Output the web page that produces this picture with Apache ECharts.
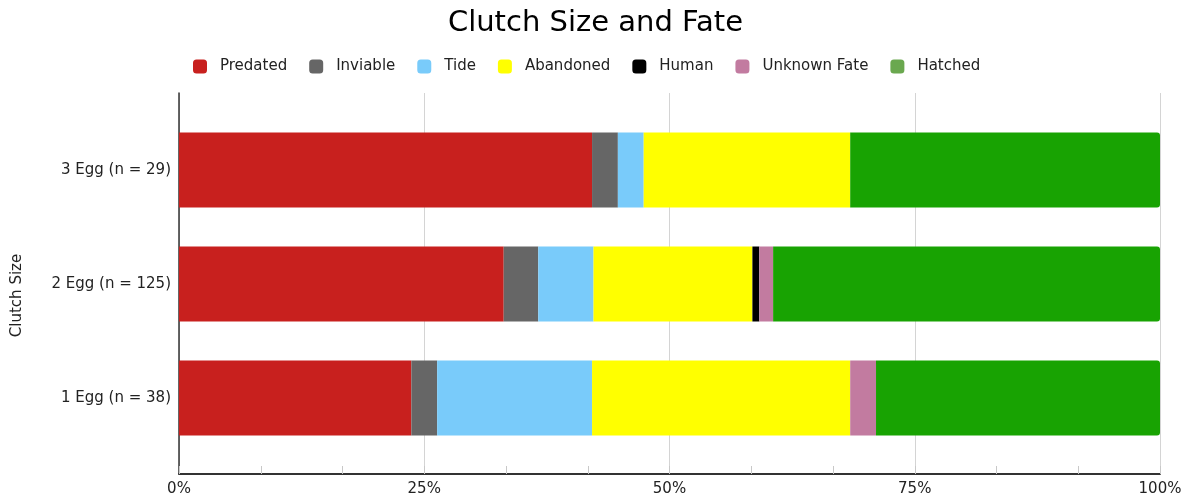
<!DOCTYPE html>
<html>
<head>
<meta charset="utf-8">
<title>Clutch Size and Fate</title>
<script src="https://cdn.jsdelivr.net/npm/echarts@6/dist/echarts.min.js"></script>
<style>
  html, body { margin: 0; padding: 0; background: #ffffff; }
  #chart { width: 1191px; height: 502px; }
</style>
</head>
<body>
<div id="chart"></div>
<script>
// Clutch size categories (bottom to top)
const categories = ['1 Egg (n = 38)', '2 Egg (n = 125)', '3 Egg (n = 29)'];

// Nest fate counts per clutch size, same order as categories
const fates = ['Predated', 'Inviable', 'Tide', 'Abandoned', 'Human', 'Unknown Fate', 'Hatched'];
const predated    = [9, 47, 16];
const inviable    = [1, 5, 1];
const tide        = [6, 8, 1];
const abandoned   = [10, 23, 8];
const human       = [0, 1, 0];
const unknownFate = [1, 2, 0];
const hatched     = [11, 56, 12];

const xTicks = [0, 25, 50, 75, 100];

const barColors = ['#c8201e', '#666666', '#79cbfa', '#ffff00', '#000000', '#c27ba0', '#18a302'];
const legendColors = ['#c8201e', '#666666', '#79cbfa', '#ffff00', '#000000', '#c27ba0', '#6aa84f'];

const counts = [predated, inviable, tide, abandoned, human, unknownFate, hatched];
const totals = categories.map((_, i) => counts.reduce((s, arr) => s + arr[i], 0));
const asPercent = arr => arr.map((v, i) => v / totals[i] * 100);

const FONT = 'DejaVu Sans';

const series = fates.map((name, k) => ({
  name: name,
  type: 'bar',
  stack: 'fate',
  xAxisIndex: 0,
  yAxisIndex: 0,
  barWidth: 75,
  data: asPercent(counts[k]),
  itemStyle: {
    color: barColors[k],
    borderRadius: k === fates.length - 1 ? [0, 3, 3, 0] : 0
  },
  emphasis: { disabled: true }
}));

const chart = echarts.init(document.getElementById('chart'), null, { renderer: 'canvas' });
chart.setOption({
  animation: false,
  textStyle: { fontFamily: FONT },
  title: {
    text: 'Clutch Size and Fate',
    left: 'center',
    top: 4,
    textStyle: { fontFamily: FONT, fontSize: 29, fontWeight: 'normal', color: '#000' }
  },
  legend: {
    top: 54,
    left: 188,
    itemWidth: 14,
    itemHeight: 14,
    itemGap: 22,
    icon: 'roundRect',
    selectedMode: false,
    textStyle: { fontFamily: FONT, fontSize: 15, color: '#222', padding: [0, 0, 0, 8] },
    data: fates.map((name, k) => ({ name: name, itemStyle: { color: legendColors[k] } }))
  },
  grid: [
    // bars
    { left: 179, right: 31, top: 113, height: 342 },
    // gridlines and percentage axis
    { left: 179, right: 31, top: 93, bottom: 28 }
  ],
  xAxis: [
    { gridIndex: 0, type: 'value', min: 0, max: 100, show: false },
    {
      gridIndex: 1,
      type: 'value',
      min: xTicks[0],
      max: xTicks[xTicks.length - 1],
      interval: 25,
      axisLine: { show: true, lineStyle: { color: '#333', width: 2 } },
      axisTick: { show: true, inside: true, length: 8, lineStyle: { color: '#c8c8c8' } },
      minorTick: { show: true, splitNumber: 3, length: 8, lineStyle: { color: '#c8c8c8' } },
      splitLine: { show: true, lineStyle: { color: '#d4d4d4', width: 1 } },
      axisLabel: {
        margin: 8,
        fontFamily: FONT,
        fontSize: 15,
        color: '#222',
        formatter: v => v + '%'
      }
    }
  ],
  yAxis: [
    {
      gridIndex: 0,
      type: 'category',
      data: categories,
      axisLine: { show: false },
      axisTick: { show: false },
      axisLabel: { margin: 8, fontFamily: FONT, fontSize: 15, color: '#222' }
    },
    {
      gridIndex: 1,
      type: 'value',
      min: 0,
      max: 1,
      axisLine: { show: true, lineStyle: { color: '#333', width: 1.5 } },
      axisTick: { show: false },
      axisLabel: { show: false },
      splitLine: { show: false },
      name: 'Clutch Size',
      nameLocation: 'middle',
      nameGap: 154,
      nameTextStyle: { fontFamily: FONT, fontSize: 15, color: '#222', padding: [0, 24, 0, 0] }
    }
  ],
  series: series
});
</script>
</body>
</html>
